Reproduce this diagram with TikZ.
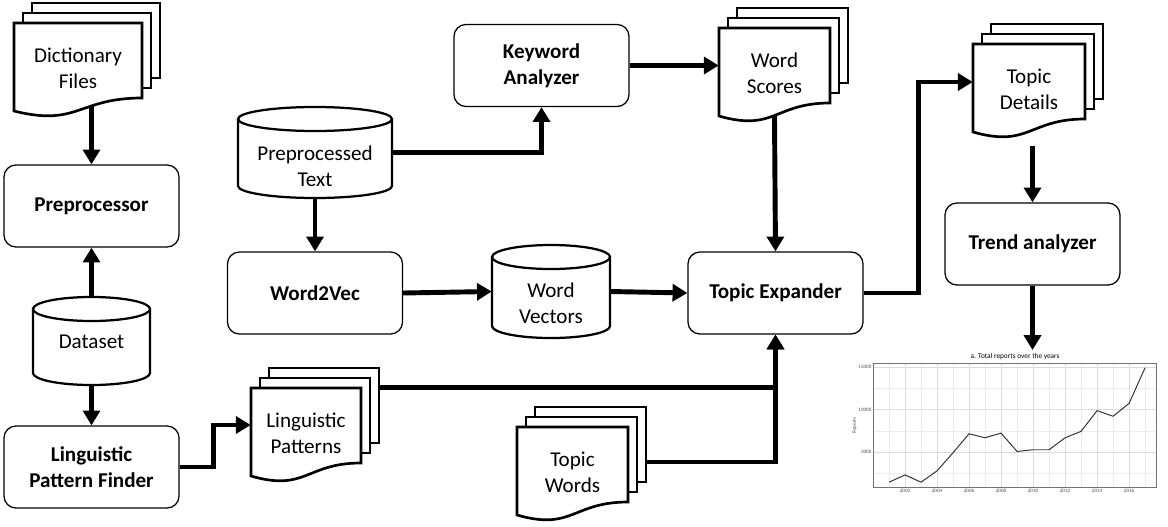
\documentclass[tikz,border=0pt]{standalone}
\usepackage{fontspec}
\setmainfont{Carlito}
\usetikzlibrary{arrows.meta, calc}

% stack of three pages, the front one with a wavy bottom
\newcommand{\docstack}[5]{%
  \draw[sheet] ({#2+18},{#3-20}) rectangle ({#2+#4+18},{#3+55});
  \draw[sheet] ({#2+9},{#3-10}) rectangle ({#2+#4+9},{#3+65});
  \draw[sheet] (#2,#3) -- ({#2+#4},#3) -- ({#2+#4},{#3+75})
    .. controls ({#2+#4/2},{#3+75}) and ({#2+#4/2},{#3+104}) .. (#2,{#3+88}) -- cycle;
  \node[doctext, minimum width={#4*0.025cm}] (#1) at ({#2+#4/2},{#3+45}) {#5};
}

% database drum
\newcommand{\drumstore}[7]{%
  \draw[drum] (#2,{#4+12}) -- (#2,{#5-12})
    arc[start angle=180, end angle=360, x radius={(#3-#2)*0.0125cm}, y radius=0.3cm]
    -- (#3,{#4+12})
    arc[start angle=0, end angle=180, x radius={(#3-#2)*0.0125cm}, y radius=0.3cm] -- cycle;
  \draw[drum, fill=none] (#2,{#4+12})
    arc[start angle=180, end angle=360, x radius={(#3-#2)*0.0125cm}, y radius=0.3cm];
  \node[inner sep=0, minimum width={(#3-#2)*0.025cm}, minimum height={(#5-#4)*0.025cm}] (#1) at ({(#2+#3)/2},{(#4+#5)/2}) {};
  \node[plaintext] (#1 text) at ({(#2+#3)/2},#6) {#7};
}

\begin{document}
\begin{tikzpicture}[
    x=0.025cm, y=-0.025cm,
    procbox/.style={draw, line width=0.9pt, rounded corners=0.3cm, minimum width=4.375cm,
                    minimum height=2.05cm, align=center, font=\fontsize{15}{18.5}\selectfont\bfseries},
    sheet/.style={draw, line width=1.9pt, fill=white},
    drum/.style={draw, line width=1.6pt, fill=white},
    doctext/.style={inner sep=0, minimum height=2.25cm, align=center, font=\fontsize{15}{18.5}\selectfont},
    plaintext/.style={inner sep=0, align=center, font=\fontsize{15}{18.5}\selectfont},
    flow/.style={line width=3.5pt, -{Triangle[length=10.5pt, width=12pt]}},
    majorgrid/.style={gray!28, line width=0.4pt},
    minorgrid/.style={gray!15, line width=0.3pt},
    ticktext/.style={inner sep=1pt, text=black!70, font=\fontsize{3.6}{4}\selectfont}]
  \useasboundingbox (0,0) rectangle (1168,526);

  % documents and stores
  \docstack{dict}{14}{23}{128}{Dictionary\\Files}
  \docstack{wsc}{719}{28}{111}{Word\\Scores}
  \docstack{tdet}{973}{44}{112}{Topic\\Details}
  \docstack{lpat}{251}{388}{110}{Linguistic\\Patterns}
  \docstack{twords}{517}{427}{111}{Topic\\Words}

  \drumstore{data}{33}{150}{297}{385}{342}{Dataset}
  \drumstore{ptext}{238}{392}{107}{198}{166}{Preprocessed\\Text}
  \drumstore{wvec}{492}{610}{245}{338}{303}{Word\\Vectors}

  % processes
  \node[procbox] (prep) at (91.5,206) {Preprocessor};
  \node[procbox] (lpf) at (91.5,467) {Linguistic\\Pattern Finder};
  \node[procbox] (kwa) at (541.5,65.5) {Keyword\\Analyzer};
  \node[procbox] (w2v) at (315,293) {Word2Vec};
  \node[procbox] (texp) at (775.5,293) {Topic Expander};
  \node[procbox] (trend) at (1032.5,244) {Trend analyzer};

  % chart
  \coordinate (chart) at (1032.5,350);
  \begin{scope}[shift={(873,495)}, x=0.4cm, y=0.000215cm]
    \foreach \yr in {1,3,...,17}
      \draw[minorgrid] (\yr,930) -- (\yr,15465);
    \foreach \v in {2500,7500,12500}
      \draw[minorgrid] (0,\v) -- (17.7,\v);
    \foreach \yr in {2,4,...,16}
      \draw[majorgrid] (\yr,930) -- (\yr,15465);
    \foreach \v in {5000,10000,15000}
      \draw[majorgrid] (0,\v) -- (17.7,\v);
    \draw[black!55, line width=0.5pt] (0,930) rectangle (17.7,15465);
    \draw[black!80, line width=0.7pt, line join=round] plot coordinates {
      (1,1500) (2,2350) (3,1500) (4,2830) (5,4950) (6,7170) (7,6700) (8,7250)
      (9,5100) (10,5300) (11,5300) (12,6700) (13,7450) (14,9880) (15,9220)
      (16,10730) (17,14900)};
    \foreach \yr in {2,4,...,16}
      \node[ticktext, anchor=north] (yr\yr) at (\yr,930) {\the\numexpr2000+\yr\relax};
    \foreach \v in {5000,10000,15000}
      \node[ticktext, anchor=east] (val\v) at (0,\v) {\v};
    \node[ticktext, rotate=90] (ytitle) at (-1.15,8140) {Reports};
  \end{scope}
  \node[inner sep=0, font=\fontsize{5.2}{6}\selectfont] (ctitle) at (1015,357) {a. Total reports over the years};

  % connectors
  \draw[flow, shorten <=-5pt] (dict.south -| prep.north) -- (prep.north);
  \draw[flow] (data.north) -- (prep.south);
  \draw[flow] (data.south) -- (lpf.north);
  \draw[flow] (lpf.east) -- ++(34,0) |- ($(lpat.west)+(0,-8)$);
  \draw[flow] ($(lpat.north east)+(18,0)$) -| (texp.south);
  \draw[flow] ($(twords.east)+(18,-10)$) -| (texp.south);
  \draw[flow] (ptext.east) -| (kwa.south);
  \draw[flow] (ptext.south) -- (w2v.north);
  \draw[flow] (kwa.east) -- (kwa.east -| wsc.west);
  \draw[flow, shorten <=-2pt] (wsc.south) -- (texp.north);
  \draw[flow] (w2v.east) -- (wvec.west);
  \draw[flow] (wvec.east) -- (texp.west);
  \draw[flow] (texp.east) -- ++(55,0) |- ($(tdet.west)+(0,-7)$);
  \draw[flow, shorten <=8pt] (tdet.south -| trend.north) -- (trend.north);
  \draw[flow] (trend.south) -- (chart);
\end{tikzpicture}
\end{document}
